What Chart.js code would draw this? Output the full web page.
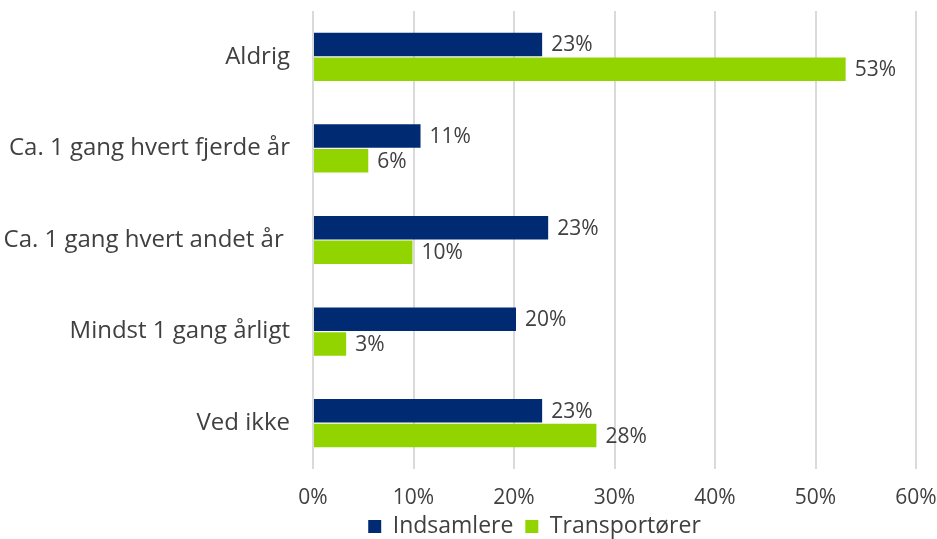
<!DOCTYPE html>
<html>
<head>
<meta charset="utf-8">
<script src="https://cdn.jsdelivr.net/npm/chart.js@4.4.0/dist/chart.umd.min.js"></script>
<style>
  html, body { margin: 0; padding: 0; background: #fff; }
  #wrap { width: 937px; height: 539px; }
</style>
</head>
<body>
<div id="wrap"><canvas id="myChart" width="937" height="539"></canvas></div>
<script>
const categories = ['Aldrig', 'Ca. 1 gang hvert fjerde år', 'Ca. 1 gang hvert andet år ', 'Mindst 1 gang årligt', 'Ved ikke'];
const indsamlere = [22.8, 10.7, 23.4, 20.2, 22.8];
const transportorer = [53.0, 5.5, 9.9, 3.3, 28.2];
const xTicks = [0, 10, 20, 30, 40, 50, 60];

const FONT = "'Open Sans', sans-serif";
const TEXT = '#404040';

// draw the value labels at the end of each bar
const valueLabels = {
  id: 'valueLabels',
  afterDatasetsDraw(chart) {
    const ctx = chart.ctx;
    ctx.save();
    ctx.font = '21px ' + FONT;
    ctx.fillStyle = TEXT;
    ctx.textAlign = 'left';
    ctx.textBaseline = 'middle';
    chart.data.datasets.forEach((ds, i) => {
      chart.getDatasetMeta(i).data.forEach((bar, j) => {
        ctx.fillText(Math.round(ds.data[j]) + '%', bar.x + 9, bar.y + 1);
      });
    });
    ctx.restore();
  }
};

// legend sits right of the canvas centre and close to the bottom in the original
const placeLegend = {
  id: 'placeLegend',
  afterLayout(chart) {
    const lg = chart.legend;
    lg.left += 66;
    lg.right += 66;
    const h = lg.bottom - lg.top;
    lg.top = 515;
    lg.bottom = lg.top + h;
  }
};

new Chart(document.getElementById('myChart'), {
  type: 'bar',
  data: {
    labels: categories,
    datasets: [
      { label: 'Indsamlere', data: indsamlere, backgroundColor: '#002A72', categoryPercentage: 0.54, barPercentage: 0.95 },
      { label: 'Transportører', data: transportorer, backgroundColor: '#92D400', categoryPercentage: 0.54, barPercentage: 0.95 }
    ]
  },
  options: {
    indexAxis: 'y',
    responsive: false,
    animation: false,
    layout: { padding: { top: 11, right: 0, left: 0, bottom: 0 } },
    scales: {
      x: {
        min: 0,
        max: 60,
        afterBuildTicks: (axis) => { axis.ticks = xTicks.map(v => ({ value: v })); },
        afterFit: (axis) => {
          axis.paddingLeft = 0;
          axis.paddingRight = 21;
          const lh = axis.chart.legend ? axis.chart.legend.height : 0;
          axis.height = 539 - 469 - lh;
        },
        ticks: {
          callback: (v) => v + '%',
          color: TEXT,
          font: { family: FONT, size: 21 },
          padding: 16
        },
        grid: { color: '#DADADA', lineWidth: 2, drawTicks: false },
        border: { display: false }
      },
      y: {
        afterFit: (axis) => { axis.width = 313; axis.paddingTop = 0; axis.paddingBottom = 0; },
        ticks: {
          color: TEXT,
          font: { family: FONT, size: 24 },
          padding: 15
        },
        grid: { display: false },
        border: { display: false }
      }
    },
    plugins: {
      legend: {
        position: 'bottom',
        labels: {
          color: TEXT,
          font: { family: FONT, size: 23, lineHeight: 1 },
          boxWidth: 13,
          boxHeight: 13,
          padding: 0,
          // small gap between the two entries
          generateLabels: (chart) =>
            Chart.defaults.plugins.legend.labels.generateLabels(chart).map((l, i) => {
              if (i === 0) l.text = l.text + '  ';
              return l;
            })
        }
      },
      tooltip: { enabled: false }
    }
  },
  plugins: [valueLabels, placeLegend]
});
</script>
</body>
</html>
